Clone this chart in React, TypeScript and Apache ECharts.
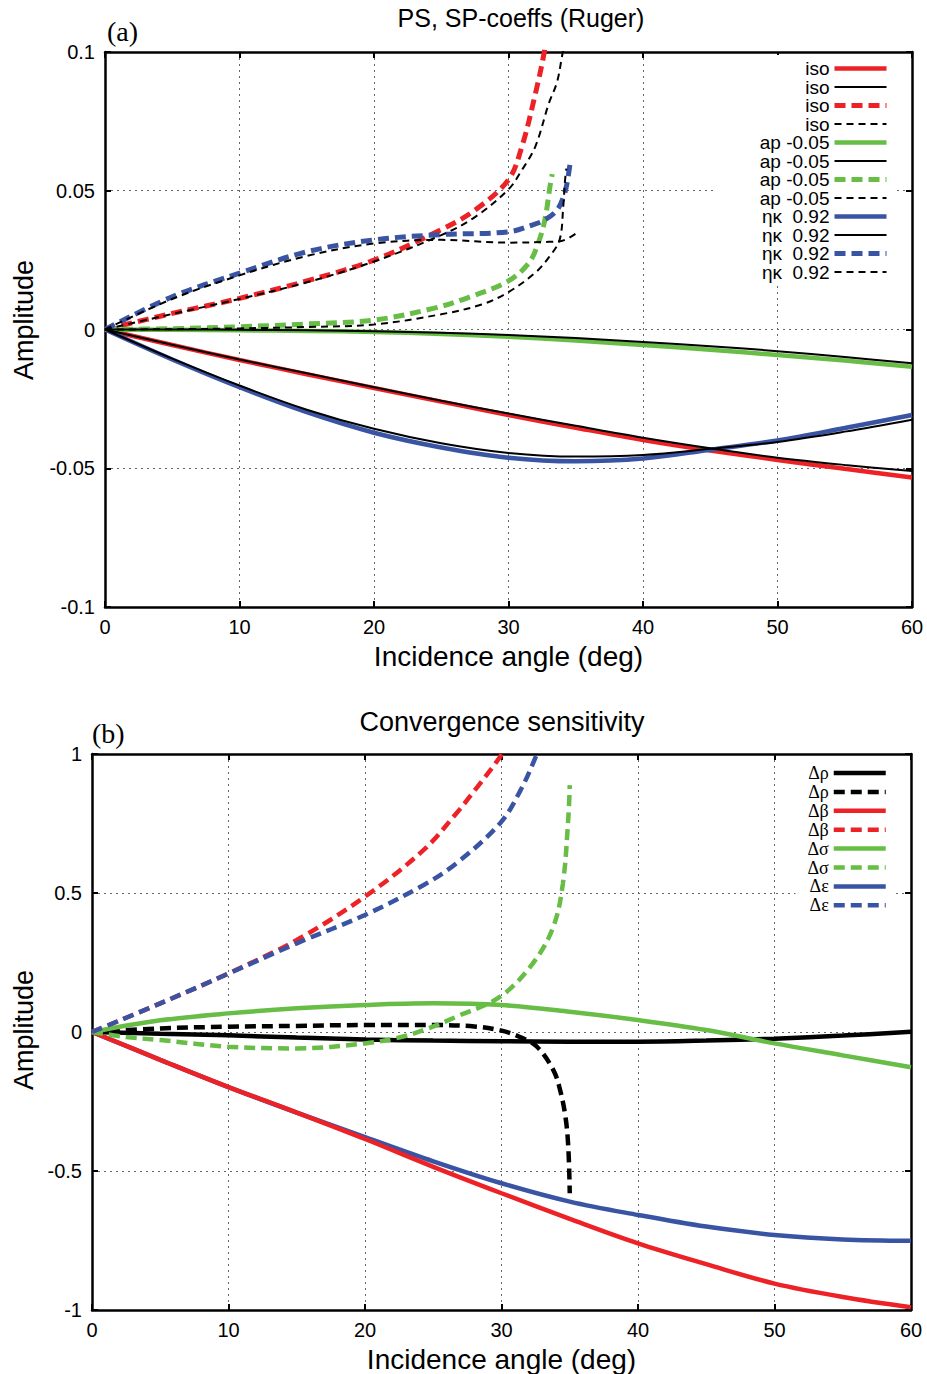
import React, { useEffect, useRef } from "react";
import * as echarts from "echarts";

const FONT = "'Liberation Sans', Arial, Helvetica, sans-serif";
const SERIF = "'Liberation Serif', 'Times New Roman', serif";

const RED = "#ec2227";
const GREEN = "#67bd45";
const BLUE = "#3a54a4";
const BLACK = "#000000";

// ---------- Panel (a): PS, SP-coeffs (Ruger) ----------
const anglesFull = [0, 5, 10, 15, 20, 25, 30, 35, 40, 45, 50, 55, 60];
const xTicksA = [0, 10, 20, 30, 40, 50, 60];
const yTicksA = [-0.1, -0.05, 0, 0.05, 0.1];

// PS solid curves (exact colored, approximation black)
const isoPS = [0, -0.0056, -0.011, -0.0161, -0.0211, -0.026, -0.0308, -0.0354, -0.0398, -0.0436, -0.047, -0.0502, -0.0533];
const isoPSApprox = [0, -0.0055, -0.0108, -0.0158, -0.0208, -0.0257, -0.0303, -0.0347, -0.039, -0.0428, -0.0462, -0.0488, -0.051];
const apPS = [0, -0.0001, -0.0003, -0.0005, -0.0009, -0.0016, -0.0026, -0.004, -0.0056, -0.0073, -0.0092, -0.0112, -0.0134];
const apPSApprox = [0, 0, -0.0001, -0.0003, -0.0006, -0.0012, -0.002, -0.0031, -0.0045, -0.006, -0.0078, -0.0099, -0.0122];
const etaPS = [0, -0.0108, -0.0208, -0.0298, -0.0372, -0.0425, -0.0462, -0.0475, -0.0465, -0.0433, -0.04, -0.0355, -0.0308];
const etaPSApprox = [0, -0.0105, -0.0202, -0.0289, -0.0358, -0.041, -0.0445, -0.0458, -0.0452, -0.043, -0.0405, -0.0368, -0.0325];

// SP dashed curves
const isoSPAngles = [0, 5, 10, 15, 20, 25, 27.5, 30, 31, 32, 32.66, 33];
const isoSP = [0, 0.0058, 0.0112, 0.0175, 0.025, 0.036, 0.043, 0.054, 0.066, 0.085, 0.1, 0.112];
const isoSPApproxAngles = [0, 5, 10, 15, 20, 25, 27.5, 30, 31, 32, 33, 33.6, 34, 34.2];
const isoSPApprox = [0, 0.0056, 0.011, 0.017, 0.0245, 0.034, 0.0405, 0.0505, 0.0575, 0.066, 0.0815, 0.089, 0.099, 0.104];
const apSPAngles = [0, 5, 10, 15, 20, 24.4, 27, 30, 31.5, 32.2, 32.7, 33.1, 33.25];
const apSP = [0, 0.0003, 0.001, 0.002, 0.0034, 0.0076, 0.0115, 0.0175, 0.0239, 0.031, 0.0395, 0.052, 0.056];
const apSPApproxAngles = [0, 5, 10, 15, 20, 25, 28, 30, 32, 33, 33.8, 34.07, 34.2, 34.3];
const apSPApprox = [0, 0.0001, 0.0004, 0.0009, 0.0018, 0.0055, 0.009, 0.0135, 0.0205, 0.026, 0.0323, 0.0443, 0.0535, 0.058];
const etaSPAngles = [0, 5, 10, 15, 20, 25, 30, 31.8, 32.7, 33.6, 34.1, 34.35, 34.6];
const etaSP = [0, 0.0118, 0.0203, 0.028, 0.0323, 0.0342, 0.0352, 0.0377, 0.0395, 0.043, 0.0479, 0.0527, 0.0605];
const etaSPApproxAngles = [0, 5, 10, 15, 20, 25, 30, 33, 34, 35.1];
const etaSPApprox = [0, 0.011, 0.0195, 0.0265, 0.031, 0.0323, 0.0313, 0.0316, 0.032, 0.0349];

// ---------- Panel (b): Convergence sensitivity ----------
const yTicksB = [-1, -0.5, 0, 0.5, 1];
const dRho = [0, -0.006, -0.012, -0.02, -0.027, -0.031, -0.033, -0.035, -0.035, -0.031, -0.024, -0.013, 0.001];
const dBeta = [0, -0.1, -0.198, -0.29, -0.385, -0.485, -0.58, -0.672, -0.76, -0.835, -0.905, -0.953, -0.99];
const dSigma = [0, 0.042, 0.067, 0.085, 0.097, 0.103, 0.097, 0.073, 0.043, 0.007, -0.041, -0.084, -0.127];
const dEps = [0, -0.1, -0.198, -0.29, -0.378, -0.465, -0.544, -0.61, -0.658, -0.7, -0.73, -0.746, -0.751];
const dRhoSPAngles = [0, 5, 10, 15, 20, 25, 28, 30, 31.3, 32.6, 33.8, 34.3, 34.7, 34.9, 35];
const dRhoSP = [0, 0.013, 0.019, 0.022, 0.025, 0.025, 0.02, 0.005, -0.017, -0.053, -0.137, -0.21, -0.31, -0.42, -0.58];
const dBetaSPAngles = [0, 5, 10, 15, 20, 24.3, 26.7, 28, 29.9, 30.2];
const dBetaSP = [0, 0.103, 0.211, 0.331, 0.487, 0.655, 0.787, 0.867, 0.99, 1.02];
const dSigmaSPAngles = [0, 2.5, 5, 10, 15, 20, 22.5, 24.3, 26.7, 29.9, 32.3, 33.8, 34.5, 34.9, 35];
const dSigmaSP = [0, -0.018, -0.029, -0.053, -0.059, -0.041, -0.02, 0.007, 0.055, 0.127, 0.247, 0.379, 0.535, 0.774, 0.888];
const dEpsSPAngles = [0, 5, 10, 15, 20, 24.3, 26.7, 29.9, 31.4, 32.6, 32.9];
const dEpsSP = [0, 0.103, 0.21, 0.319, 0.421, 0.529, 0.607, 0.751, 0.87, 1.0, 1.04];

const legendOrderA = [
  "isoPS", "isoPSApprox", "isoSP", "isoSPApprox",
  "apPS", "apPSApprox", "apSP", "apSPApprox",
  "etaPS", "etaPSApprox", "etaSP", "etaSPApprox",
];
const legendOrderB = ["dRho", "dRhoSP", "dBeta", "dBetaSP", "dSigma", "dSigmaSP", "dEps", "dEpsSP"];

const legendA: Record<string, string> = {
  isoPS: "iso",
  isoPSApprox: "iso",
  isoSP: "iso",
  isoSPApprox: "iso",
  apPS: "ap -0.05",
  apPSApprox: "ap -0.05",
  apSP: "ap -0.05",
  apSPApprox: "ap -0.05",
  etaPS: "ηκ  0.92",
  etaPSApprox: "ηκ  0.92",
  etaSP: "ηκ  0.92",
  etaSPApprox: "ηκ  0.92",
};
const legendB: Record<string, string> = {
  dRho: "Δρ",
  dRhoSP: "Δρ",
  dBeta: "Δβ",
  dBetaSP: "Δβ",
  dSigma: "Δσ",
  dSigmaSP: "Δσ",
  dEps: "Δε",
  dEpsSP: "Δε",
};

function pairs(xs: number[], ys: number[]) {
  return xs.map((x, i) => [x, ys[i]]);
}

function mkLine(
  name: string,
  xs: number[],
  ys: number[],
  color: string,
  width: number,
  dash: number[] | null,
  axis: number,
  z: number
) {
  return {
    type: "line",
    name,
    data: pairs(xs, ys),
    xAxisIndex: axis,
    yAxisIndex: axis,
    symbol: "none",
    showSymbol: false,
    smooth: 0.35,
    clip: true,
    z,
    itemStyle: { color },
    lineStyle: { color, width, type: dash ? dash : "solid", cap: "butt" },
    emphasis: { disabled: true },
  };
}

const gridLine = { show: true, lineStyle: { color: "#666", width: 1, type: [2, 4] } };
const frameLine = { show: true, onZero: false, lineStyle: { color: "#000", width: 2.5 } };
const tick = { show: true, inside: true, length: 6, lineStyle: { color: "#000", width: 2 } };

function xAxesFor(grid: number, ticks: number[]) {
  const base = { type: "value", gridIndex: grid, min: ticks[0], max: ticks[ticks.length - 1], interval: ticks[1] - ticks[0] };
  return [
    {
      ...base,
      position: "bottom",
      axisLine: frameLine,
      axisTick: tick,
      splitLine: gridLine,
      axisLabel: { show: true, margin: 10, color: "#000", fontSize: 20, fontFamily: FONT },
      name: "Incidence angle (deg)",
      nameLocation: "middle",
      nameGap: 35,
      nameTextStyle: { color: "#000", fontSize: 28, fontFamily: FONT },
    },
    {
      ...base,
      position: "top",
      axisLine: frameLine,
      axisTick: tick,
      splitLine: { show: false },
      axisLabel: { show: false },
    },
  ];
}

function yAxesFor(grid: number, ticks: number[]) {
  const base = { type: "value", gridIndex: grid, min: ticks[0], max: ticks[ticks.length - 1], interval: ticks[1] - ticks[0] };
  return [
    {
      ...base,
      position: "left",
      axisLine: frameLine,
      axisTick: tick,
      splitLine: gridLine,
      axisLabel: { show: true, margin: 10, color: "#000", fontSize: 20, fontFamily: FONT },
    },
    {
      ...base,
      position: "right",
      axisLine: frameLine,
      axisTick: tick,
      splitLine: { show: false },
      axisLabel: { show: false },
    },
  ];
}

export default function App() {
  const ref = useRef<HTMLDivElement>(null);

  useEffect(() => {
    if (!ref.current) return;
    const chart = echarts.init(ref.current, null, { renderer: "svg" });

    const dashThick = [11, 6];
    const dashThin = [7, 5];

    const seriesA = [
      mkLine("isoPS", anglesFull, isoPS, RED, 4.5, null, 0, 2),
      mkLine("apPS", anglesFull, apPS, GREEN, 4.5, null, 0, 2),
      mkLine("etaPS", anglesFull, etaPS, BLUE, 4.5, null, 0, 2),
      mkLine("isoSP", isoSPAngles, isoSP, RED, 5, dashThick, 0, 2),
      mkLine("apSP", apSPAngles, apSP, GREEN, 5, dashThick, 0, 2),
      mkLine("etaSP", etaSPAngles, etaSP, BLUE, 5, dashThick, 0, 2),
      mkLine("isoPSApprox", anglesFull, isoPSApprox, BLACK, 2, null, 0, 3),
      mkLine("apPSApprox", anglesFull, apPSApprox, BLACK, 2, null, 0, 3),
      mkLine("etaPSApprox", anglesFull, etaPSApprox, BLACK, 2, null, 0, 3),
      mkLine("isoSPApprox", isoSPApproxAngles, isoSPApprox, BLACK, 2, dashThin, 0, 3),
      mkLine("apSPApprox", apSPApproxAngles, apSPApprox, BLACK, 2, dashThin, 0, 3),
      mkLine("etaSPApprox", etaSPApproxAngles, etaSPApprox, BLACK, 2, dashThin, 0, 3),
    ];

    const seriesB = [
      mkLine("dRho", anglesFull, dRho, BLACK, 4.5, null, 2, 2),
      mkLine("dRhoSP", dRhoSPAngles, dRhoSP, BLACK, 4.5, dashThick, 2, 2),
      mkLine("dEps", anglesFull, dEps, BLUE, 4.5, null, 2, 2),
      mkLine("dBeta", anglesFull, dBeta, RED, 4.5, null, 2, 2),
      mkLine("dBetaSP", dBetaSPAngles, dBetaSP, RED, 4.5, dashThick, 2, 2),
      mkLine("dSigma", anglesFull, dSigma, GREEN, 4.5, null, 2, 2),
      mkLine("dSigmaSP", dSigmaSPAngles, dSigmaSP, GREEN, 4.5, dashThick, 2, 2),
      mkLine("dEpsSP", dEpsSPAngles, dEpsSP, BLUE, 4.5, dashThick, 2, 2),
    ];

    const legendCommon = {
      orient: "vertical",
      align: "right",
      itemWidth: 52,
      itemHeight: 14,
      selectedMode: false,
      backgroundColor: "#ffffff",
      itemStyle: { opacity: 0, borderWidth: 0 },
      lineStyle: { width: "inherit" },
      inactiveColor: "#000",
    };

    const txt = (text: string, x: number, y: number, size: number, family: string, align: string, rot = 0) => ({
      type: "text",
      x,
      y,
      rotation: rot,
      style: { text, fill: "#000", fontSize: size, fontFamily: family, textAlign: align, textVerticalAlign: "middle" },
    });

    const option: any = {
      animation: false,
      backgroundColor: "#ffffff",
      grid: [
        { left: 105, top: 52, width: 807, height: 555, containLabel: false, outerBoundsMode: "none", show: false },
        { left: 92, top: 754, width: 819, height: 556, containLabel: false, outerBoundsMode: "none", show: false },
      ],
      xAxis: [...xAxesFor(0, xTicksA), ...xAxesFor(1, xTicksA)],
      yAxis: [...yAxesFor(0, yTicksA), ...yAxesFor(1, yTicksB)],
      legend: [
        {
          ...legendCommon,
          data: legendOrderA,
          formatter: (n: string) => legendA[n],
          right: 34,
          top: 55,
          itemGap: -0.5,
          padding: [4, 4, 4, 44],
          textStyle: { color: "#000", fontSize: 19, fontFamily: FONT },
        },
        {
          ...legendCommon,
          data: legendOrderB,
          formatter: (n: string) => legendB[n],
          right: 35,
          top: 760,
          itemGap: 0.9,
          padding: [4, 4, 4, 12],
          textStyle: { color: "#000", fontSize: 18, fontFamily: SERIF },
        },
      ],
      graphic: [
        txt("PS, SP-coeffs (Ruger)", 521, 18, 25, FONT, "center"),
        txt("Convergence sensitivity", 502, 722, 27, FONT, "center"),
        txt("(a)", 107, 31, 28, SERIF, "left"),
        txt("(b)", 92, 733, 28, SERIF, "left"),
        txt("Amplitude", 24, 320, 27, FONT, "center", Math.PI / 2),
        txt("Amplitude", 24, 1030, 27, FONT, "center", Math.PI / 2),
      ],
      series: [...seriesA, ...seriesB],
    };

    chart.setOption(option);
    return () => chart.dispose();
  }, []);

  return (
    <div
      ref={ref}
      style={{ position: "fixed", left: 0, top: 0, width: 927, height: 1374, background: "#fff" }}
    />
  );
}
